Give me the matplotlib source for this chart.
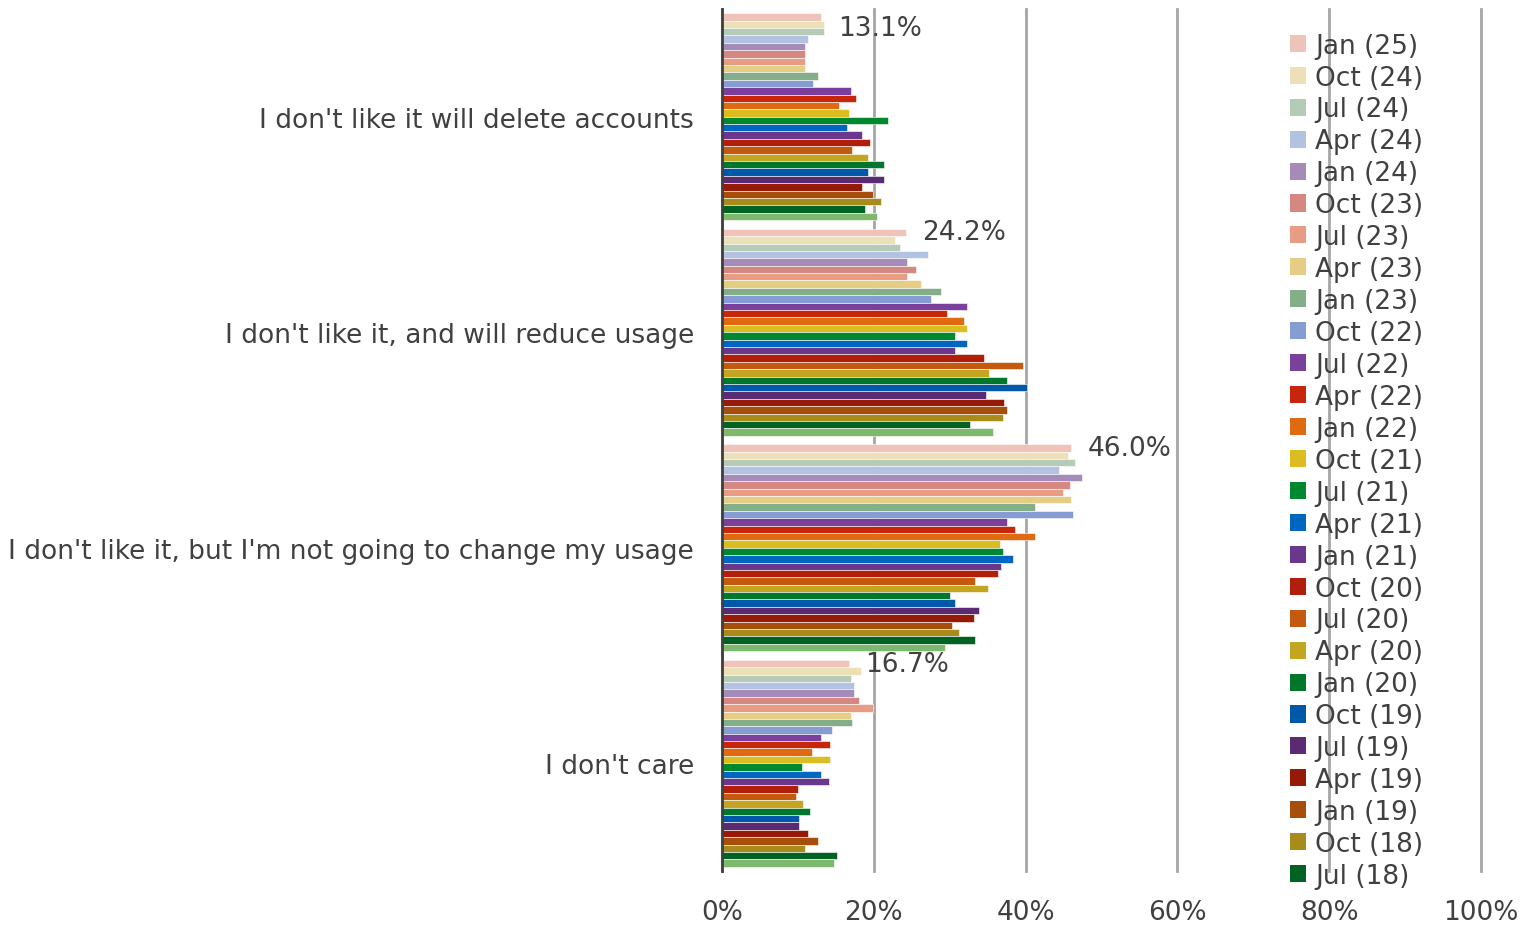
import matplotlib
matplotlib.use("Agg")
import matplotlib.pyplot as plt
from matplotlib.patches import Patch

# categories (top to bottom)
categories = [
    "I don't like it will delete accounts",
    "I don't like it, and will reduce usage",
    "I don't like it, but I'm not going to change my usage",
    "I don't care",
]

# waves, newest first (last one is not shown in the legend)
waves = ["Jan (25)", "Oct (24)", "Jul (24)", "Apr (24)", "Jan (24)", "Oct (23)",
         "Jul (23)", "Apr (23)", "Jan (23)", "Oct (22)", "Jul (22)", "Apr (22)",
         "Jan (22)", "Oct (21)", "Jul (21)", "Apr (21)", "Jan (21)", "Oct (20)",
         "Jul (20)", "Apr (20)", "Jan (20)", "Oct (19)", "Jul (19)", "Apr (19)",
         "Jan (19)", "Oct (18)", "Jul (18)", "Apr (18)"]

colors = ["#EFC3B8", "#EDDFB6", "#B6CBB6", "#B4C2E1", "#A48BB8", "#D58781",
          "#E79C84", "#E5CD86", "#84AE87", "#869DD3", "#7B3F9C", "#C8260A",
          "#DF6A12", "#DBBD22", "#00882E", "#0067C0", "#6A378C", "#B11F0A",
          "#C45A10", "#C4A522", "#00772A", "#0058A8", "#5A2B73", "#951A08",
          "#A84E0D", "#A98B1C", "#006323", "#7DB86C"]

# percentages per category, one value per wave (same order as waves)
delete_accounts = [13.1, 13.4, 13.4, 11.3, 10.9, 10.9, 10.9, 10.9, 12.7, 12.0,
                   17.0, 17.7, 15.4, 16.7, 21.9, 16.5, 18.5, 19.5, 17.2, 19.2,
                   21.3, 19.2, 21.3, 18.5, 19.9, 21.0, 18.8, 20.4]
reduce_usage = [24.2, 22.8, 23.5, 27.1, 24.4, 25.5, 24.4, 26.2, 28.9, 27.6,
                32.3, 29.6, 31.9, 32.3, 30.7, 32.3, 30.7, 34.5, 39.7, 35.2,
                37.5, 40.2, 34.8, 37.2, 37.5, 37.0, 32.7, 35.7]
no_change = [46.0, 45.6, 46.5, 44.4, 47.4, 45.8, 44.9, 46.0, 41.3, 46.2,
             37.5, 38.6, 41.3, 36.6, 37.0, 38.4, 36.8, 36.4, 33.4, 35.0,
             30.1, 30.7, 33.8, 33.2, 30.3, 31.2, 33.4, 29.4]
dont_care = [16.7, 18.3, 17.0, 17.4, 17.4, 18.1, 19.9, 17.0, 17.2, 14.5,
             13.1, 14.3, 11.8, 14.3, 10.5, 13.1, 14.1, 10.0, 9.8, 10.7,
             11.6, 10.2, 10.2, 11.3, 12.7, 10.9, 15.2, 14.7]

values = [delete_accounts, reduce_usage, no_change, dont_care]
text_col = "#404040"
fs = 19

fig = plt.figure(figsize=(15.37, 9.28), dpi=100)
ax = fig.add_axes([0.4697, 0.0603, 0.4939, 0.929])

n = len(waves)
h = 0.96 / n
for j in range(n):
    ys = [i - 0.48 + (j + 0.5) * h for i in range(len(categories))]
    xs = [v[j] for v in values]
    ax.barh(ys, xs, height=h, color=colors[j], edgecolor="white",
            linewidth=0.4, zorder=2)

# data labels on the latest wave
for i, v in enumerate(values):
    y0 = i - 0.48 + 0.5 * h
    dy = -8 if i == 0 else 0
    ax.annotate(f"{v[0]:.1f}%", (v[0], y0), xytext=(12, dy),
                textcoords="offset points", va="center", ha="left",
                fontsize=fs, color=text_col)

ax.set_xlim(0, 100)
ax.set_ylim(3.5, -0.5)
ax.set_xticks(range(0, 101, 20))
ax.set_xticklabels([f"{t}%" for t in range(0, 101, 20)])
ax.set_yticks(range(len(categories)))
ax.set_yticklabels(categories)
ax.tick_params(axis="both", length=0, labelsize=fs, colors=text_col)
ax.tick_params(axis="y", pad=20)
ax.tick_params(axis="x", pad=20)

ax.grid(axis="x", color="#A6A6A6", linewidth=2, zorder=0)
for gl in ax.get_xgridlines():
    gl.set_clip_on(False)
for s in ["top", "right", "bottom"]:
    ax.spines[s].set_visible(False)
ax.spines["left"].set_color("#404040")
ax.spines["left"].set_linewidth(2)
ax.spines["left"].set_zorder(3)

handles = [Patch(facecolor=colors[j], label=waves[j]) for j in range(n - 1)]
ax.legend(handles=handles, loc="upper left", bbox_to_anchor=(0.8307, 0.978),
          bbox_transform=fig.transFigure, frameon=False, fontsize=fs,
          handlelength=0.62, handleheight=0.62, handletextpad=0.33,
          labelspacing=0.225, borderpad=0, labelcolor=text_col)

fig.savefig("out.png", dpi=100)
